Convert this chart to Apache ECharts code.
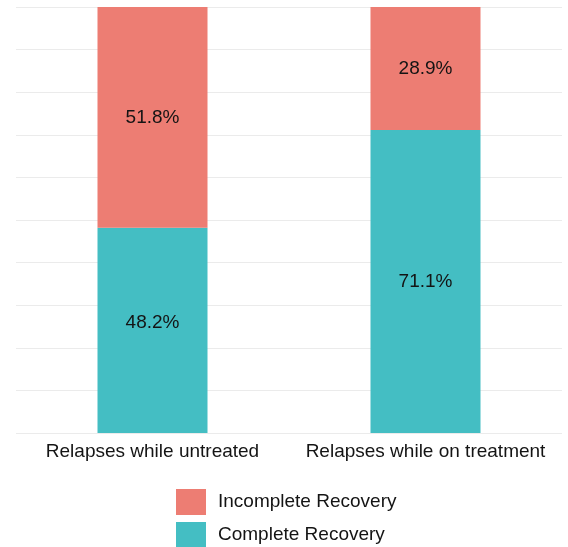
<!DOCTYPE html>
<html>
<head>
<meta charset="utf-8">
<script src="https://cdn.jsdelivr.net/npm/echarts@6/dist/echarts.min.js"></script>
<style>html,body{margin:0;padding:0;background:#fff}#c{width:568px;height:547px}</style>
</head>
<body>
<div id="c"></div>
<script>
const categories = ['Relapses while untreated', 'Relapses while on treatment'];
const completeRecovery = [48.2, 71.1];
const incompleteRecovery = [51.8, 28.9];
const seriesNames = ['Incomplete Recovery', 'Complete Recovery'];

const font = 'Liberation Sans, Arial, Helvetica, sans-serif';
const chart = echarts.init(document.getElementById('c'), null, {renderer: 'canvas'});
const fmt = p => p.value.toFixed(1) + '%';
const legendBase = {
  orient: 'vertical',
  left: 176,
  padding: 0,
  icon: 'rect',
  itemWidth: 30, itemHeight: 26,
  textStyle: {fontSize: 19, color: '#141414', fontFamily: font, padding: [2, 0, 0, 7]}
};
chart.setOption({
  animation: false,
  grid: {left: 16, right: 6, top: 7, bottom: 114, containLabel: false},
  legend: [
    Object.assign({}, legendBase, {data: [seriesNames[0]], top: 489}),
    Object.assign({}, legendBase, {data: [seriesNames[1]], top: 522})
  ],
  xAxis: {
    type: 'category',
    data: categories,
    axisLine: {show: false},
    axisTick: {show: false},
    axisLabel: {fontSize: 19, color: '#141414', fontFamily: font, margin: 9, interval: 0}
  },
  yAxis: {
    type: 'value', min: 0, max: 100, interval: 10,
    axisLabel: {show: false},
    axisLine: {show: false},
    axisTick: {show: false},
    splitLine: {lineStyle: {color: '#ebebeb', width: 1}}
  },
  series: [
    {
      name: seriesNames[1], type: 'bar', stack: 'total',
      data: completeRecovery.map((v, i) => i === 0 ? {value: v, label: {offset: [0, -8]}} : v),
      barWidth: 110,
      itemStyle: {color: '#44BEC3'},
      label: {show: true, position: 'inside', formatter: fmt, fontSize: 19, color: '#141414', fontFamily: font}
    },
    {
      name: seriesNames[0], type: 'bar', stack: 'total', data: incompleteRecovery,
      barWidth: 110,
      itemStyle: {color: '#ED7D73'},
      label: {show: true, position: 'inside', formatter: fmt, fontSize: 19, color: '#141414', fontFamily: font}
    }
  ]
});
</script>
</body>
</html>
